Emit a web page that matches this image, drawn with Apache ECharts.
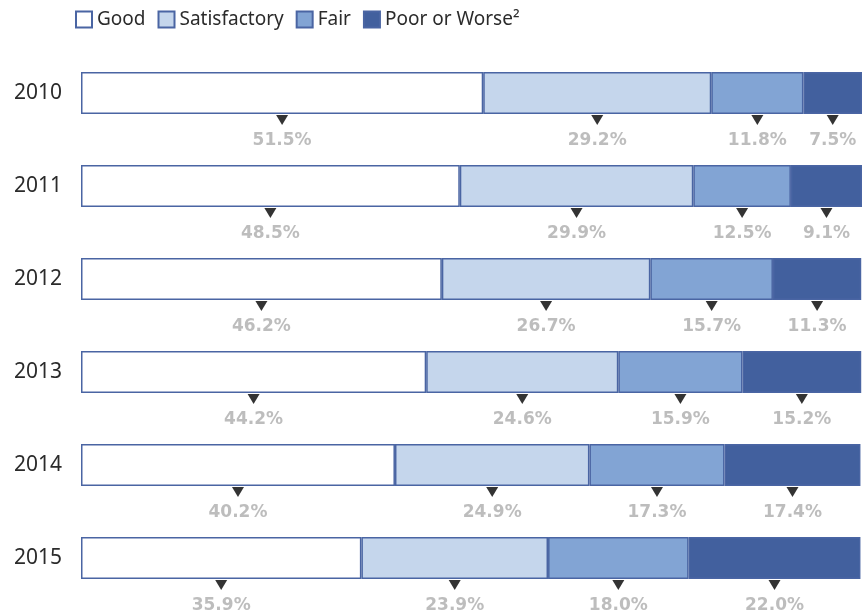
<!DOCTYPE html>
<html>
<head>
<meta charset="utf-8">
<script src="https://cdn.jsdelivr.net/npm/echarts@6/dist/echarts.min.js"></script>
<style>
  html, body { margin: 0; padding: 0; background: #fff; }
  #chart { width: 867px; height: 615px; }
</style>
</head>
<body>
<div id="chart"></div>
<script>
// Condition shares by year (percent)
const years = ['2010', '2011', '2012', '2013', '2014', '2015'];
const good = [51.5, 48.5, 46.2, 44.2, 40.2, 35.9];
const satisfactory = [29.2, 29.9, 26.7, 24.6, 24.9, 23.9];
const fair = [11.8, 12.5, 15.7, 15.9, 17.3, 18.0];
const poor = [7.5, 9.1, 11.3, 15.2, 17.4, 22.0];

const seriesNames = ['Good', 'Satisfactory', 'Fair', 'Poor or Worse\u00B2'];
const seriesData = [good, satisfactory, fair, poor];
const fills = ['#ffffff', '#c5d6ec', '#82a4d4', '#42609e'];
const edge = '#4a65a3';

const chart = echarts.init(document.getElementById('chart'), null, { renderer: 'canvas' });

// Stacked segments
const barSeries = seriesNames.map((name, i) => ({
  name: name,
  type: 'bar',
  stack: 'total',
  barWidth: 42,
  data: seriesData[i],
  itemStyle: { color: fills[i], borderColor: edge, borderWidth: 1.5 },
  emphasis: { disabled: true },
  silent: true
}));

// Pointer markers and value labels under the middle of each segment
const markerData = [];
years.forEach((y, r) => {
  let acc = 0;
  seriesData.forEach(arr => {
    const v = arr[r];
    markerData.push({ value: [acc + v / 2, r], pct: v });
    acc += v;
  });
});

const markerSeries = {
  type: 'scatter',
  data: markerData,
  symbol: 'triangle',
  symbolRotate: 180,
  symbolSize: [12, 10],
  symbolOffset: [0, 27],
  itemStyle: { color: '#000' },
  silent: true,
  z: 5
};

const labelSeries = {
  type: 'scatter',
  data: markerData,
  symbolSize: 1,
  itemStyle: { color: 'rgba(0,0,0,0)' },
  label: {
    show: true,
    position: 'inside',
    offset: [0, 48],
    formatter: p => p.data.pct.toFixed(1) + '%',
    color: '#adadad',
    fontFamily: 'DejaVu Sans',
    fontWeight: 'bold',
    fontSize: 17
  },
  silent: true,
  z: 6
};

chart.setOption({
  animation: false,
  backgroundColor: '#ffffff',
  legend: {
    data: seriesNames,
    left: 70,
    top: 5,
    icon: 'rect',
    itemWidth: 16,
    itemHeight: 16,
    itemGap: 12,
    textStyle: { fontFamily: 'Noto Sans', fontSize: 19, color: '#2b2b2b' },
    selectedMode: false
  },
  grid: { left: 81, right: 5, top: 46.5, height: 558, containLabel: false },
  xAxis: {
    type: 'value',
    min: 0,
    max: 100,
    show: false
  },
  yAxis: {
    type: 'category',
    data: years,
    inverse: true,
    axisLine: { show: false },
    axisTick: { show: false },
    splitLine: { show: false },
    axisLabel: { fontFamily: 'Noto Sans', fontSize: 21, color: '#2b2b2b', margin: 19 }
  },
  series: [...barSeries, markerSeries, labelSeries]
});
</script>
</body>
</html>
